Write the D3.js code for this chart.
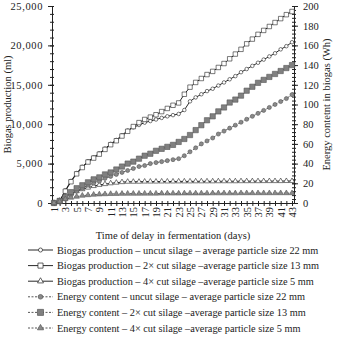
<!DOCTYPE html>
<html>
<head>
<meta charset="utf-8">
<script src="https://cdn.jsdelivr.net/npm/d3@7"></script>
<style>
  body { margin: 0; background: #fff; }
  svg text { font-family: "Liberation Serif", "Times New Roman", serif; fill: #222; }
</style>
</head>
<body>
<svg id="chart" width="338" height="343"></svg>
<script>
// days of delay in fermentation
var days = d3.range(1, 44);

// biogas production (ml), left axis
var biogasUncut = [0, 200, 1600, 2800, 3800, 4600, 5300, 5800, 6300, 6900, 7500, 8000, 8600, 9200, 9600,
	9900, 10200, 10400, 10600, 10800, 11000, 11150, 11300, 11800, 12900, 13400, 13800, 14200, 14500, 14900,
	15300, 15700, 16100, 16600, 17000, 17400, 17800, 18200, 18600, 19000, 19500, 19900, 20400];
var biogas2x = [0, 300, 1500, 2700, 3700, 4500, 5200, 5700, 6200, 6800, 7400, 7900, 8500, 9100, 9700,
	10200, 10600, 10900, 11200, 11600, 12000, 12400, 12700, 13800, 14700, 15300, 15800, 16300, 16700, 17200,
	17700, 18300, 18900, 19500, 20200, 20800, 21400, 21900, 22400, 22900, 23400, 23900, 24300];
var biogas4x = [0, 300, 800, 1200, 1500, 1750, 1950, 2150, 2300, 2400, 2500, 2580, 2650, 2700, 2700,
	2700, 2720, 2720, 2720, 2730, 2730, 2730, 2740, 2740, 2740, 2750, 2750, 2750, 2750, 2760,
	2760, 2760, 2760, 2770, 2770, 2770, 2770, 2780, 2780, 2780, 2780, 2790, 2790];

// energy content (Wh), right axis
var energyUncut = [0, 1, 4, 8, 12, 15, 18, 20, 22, 25, 27, 29, 31, 33, 35,
	37, 38, 40, 41, 42, 43, 44, 45, 48, 52, 56, 60, 63, 66, 70,
	73, 76, 79, 82, 85, 88, 91, 94, 97, 100, 103, 106, 110];
var energy2x = [0, 2, 6, 11, 15, 18, 21, 24, 26, 29, 31, 34, 37, 40, 42,
	45, 48, 50, 53, 55, 57, 59, 62, 65, 69, 74, 79, 84, 88, 93,
	97, 102, 105, 109, 114, 118, 122, 125, 128, 131, 134, 137, 140];
var energy4x = [0, 1.5, 4, 5.5, 6.5, 7.5, 8, 8.5, 8.8, 9, 9.2, 9.3, 9.4, 9.5, 9.5,
	9.5, 9.6, 9.6, 9.6, 9.7, 9.7, 9.7, 9.7, 9.8, 9.8, 9.8, 9.8, 9.8, 9.9, 9.9,
	9.9, 9.9, 9.9, 10, 10, 10, 10, 10, 10, 10, 10, 10, 10];

var leftTicks = [0, 5000, 10000, 15000, 20000, 25000];
var rightTicks = [0, 20, 40, 60, 80, 100, 120, 140, 160, 180, 200];

var series = [
	{name: "Biogas production \u2013 uncut silage \u2013 average particle size 22 mm", values: biogasUncut, axis: "left", sym: d3.symbolCircle, size: 10, fill: "#fff", dash: null},
	{name: "Biogas production \u2013 2\u00d7 cut silage \u2013average particle size 13 mm", values: biogas2x, axis: "left", sym: d3.symbolSquare, size: 20, fill: "#fff", dash: null},
	{name: "Biogas production \u2013 4\u00d7 cut silage \u2013average particle size 5 mm", values: biogas4x, axis: "left", sym: d3.symbolTriangle, size: 12, fill: "#fff", dash: null},
	{name: "Energy content \u2013 uncut silage \u2013  average particle size 22 mm", values: energyUncut, axis: "right", sym: d3.symbolCircle, size: 13, fill: "#8a8a8a", dash: "2,1.5"},
	{name: "Energy content \u2013 2\u00d7 cut silage \u2013average particle size 13 mm", values: energy2x, axis: "right", sym: d3.symbolSquare, size: 28, fill: "#808080", dash: "2,1.5"},
	{name: "Energy content \u2013  4\u00d7 cut silage \u2013average particle size 5 mm", values: energy4x, axis: "right", sym: d3.symbolTriangle, size: 13, fill: "#8a8a8a", dash: "2,1.5"}
];

var svg = d3.select("#chart"),
	margin = {top: 6, left: 52, bottom: 140, right: 44},
	width = +svg.attr("width"),
	height = +svg.attr("height");

var x = d3.scalePoint()
	.domain(days)
	.range([margin.left, width - margin.right])
	.padding(0.35);

var yL = d3.scaleLinear()
	.domain([0, 25000])
	.range([height - margin.bottom, margin.top]);

var yR = d3.scaleLinear()
	.domain([0, 200])
	.range([height - margin.bottom, margin.top]);

var y0 = height - margin.bottom;

// minor ticks
svg.append("g")
	.attr("transform", `translate(${margin.left},0)`)
	.call(d3.axisLeft(yL).tickValues(d3.range(0, 25001, 1000)).tickSize(2).tickFormat(""))
	.call(g => g.select(".domain").remove())
	.selectAll("line").attr("x2", -2).attr("x1", 2);
svg.append("g")
	.attr("transform", `translate(${width - margin.right},0)`)
	.call(d3.axisRight(yR).tickValues(d3.range(0, 201, 4)).tickSize(2).tickFormat(""))
	.call(g => g.select(".domain").remove())
	.selectAll("line").attr("x1", -2).attr("x2", 2);

// left axis
var yAxis = svg.append("g")
	.attr("class", "y-axis")
	.attr("transform", `translate(${margin.left},0)`)
	.call(d3.axisLeft(yL).tickValues(leftTicks).tickSize(4).tickPadding(5).tickFormat(d3.format(",")));
yAxis.selectAll(".tick line").attr("x1", 2);
yAxis.selectAll("text").style("font-size", "10.5px").attr("letter-spacing", "0.6px");

// right axis
var yAxisR = svg.append("g")
	.attr("class", "y-axis-r")
	.attr("transform", `translate(${width - margin.right},0)`)
	.call(d3.axisRight(yR).tickValues(rightTicks).tickSize(4).tickPadding(5));
yAxisR.selectAll(".tick line").attr("x1", -2);
yAxisR.selectAll("text").style("font-size", "10.5px");

// x axis
var xAxis = svg.append("g")
	.attr("class", "x-axis")
	.attr("transform", `translate(0,${y0})`)
	.call(d3.axisBottom(x).tickSize(3).tickSizeOuter(0).tickFormat(d => d % 2 === 1 ? d : ""));
xAxis.select(".domain").attr("d", `M${margin.left},0.5H${width - margin.right}`);
xAxis.selectAll(".tick line").attr("y1", -2);
xAxis.selectAll("text")
	.style("font-size", "10.5px")
	.attr("text-anchor", "end")
	.attr("y", 0)
	.attr("x", -4)
	.attr("dy", "0.32em")
	.attr("transform", "rotate(-90)");

svg.selectAll(".domain, .tick line").attr("stroke", "#222");

// titles
svg.append("text")
	.attr("transform", `translate(11,${(margin.top + y0) / 2}) rotate(-90)`)
	.attr("text-anchor", "middle")
	.style("font-size", "10.5px")
	.text("Biogas production (ml)");

svg.append("text")
	.attr("transform", `translate(330,${(margin.top + y0) / 2}) rotate(-90)`)
	.attr("text-anchor", "middle")
	.style("font-size", "10.5px")
	.text("Energy contetnt in biogas (Wh)");

svg.append("text")
	.attr("x", (margin.left + width - margin.right) / 2)
	.attr("y", 239)
	.attr("text-anchor", "middle")
	.style("font-size", "10.5px")
	.text("Time of delay in fermentation (days)");

// lines
var plot = svg.append("g");
series.forEach(function(s) {
	var yy = s.axis === "left" ? yL : yR;
	var line = d3.line().x((d, i) => x(days[i])).y(d => yy(d));
	plot.append("path")
		.datum(s.values)
		.attr("fill", "none")
		.attr("stroke", s.dash ? "#444" : "#111")
		.attr("stroke-width", 0.9)
		.attr("stroke-dasharray", s.dash)
		.attr("d", line);
});
series.forEach(function(s) {
	var yy = s.axis === "left" ? yL : yR;
	plot.selectAll(null)
		.data(s.values)
		.enter().append("path")
		.attr("transform", (d, i) => `translate(${x(days[i])},${yy(d)})`)
		.attr("d", d3.symbol().type(s.sym).size(s.size))
		.attr("fill", s.fill)
		.attr("stroke", s.dash ? "#555" : "#222")
		.attr("stroke-width", 0.6);
});

// legend
var legend = svg.append("g").attr("transform", "translate(0,250)");
series.forEach(function(s, i) {
	var row = legend.append("g").attr("transform", `translate(0,${i * 15.6})`);
	row.append("line")
		.attr("x1", 28).attr("x2", 53)
		.attr("stroke", s.dash ? "#444" : "#111")
		.attr("stroke-width", 0.9)
		.attr("stroke-dasharray", s.dash);
	row.append("path")
		.attr("transform", "translate(40.5,0)")
		.attr("d", d3.symbol().type(s.sym).size(s.size * 1.3))
		.attr("fill", s.fill)
		.attr("stroke", s.dash ? "#555" : "#222")
		.attr("stroke-width", 0.7);
	row.append("text")
		.attr("x", 57)
		.attr("y", 0)
		.attr("dy", "0.35em")
		.style("font-size", "10.3px")
		.text(s.name);
});
</script>
</body>
</html>
